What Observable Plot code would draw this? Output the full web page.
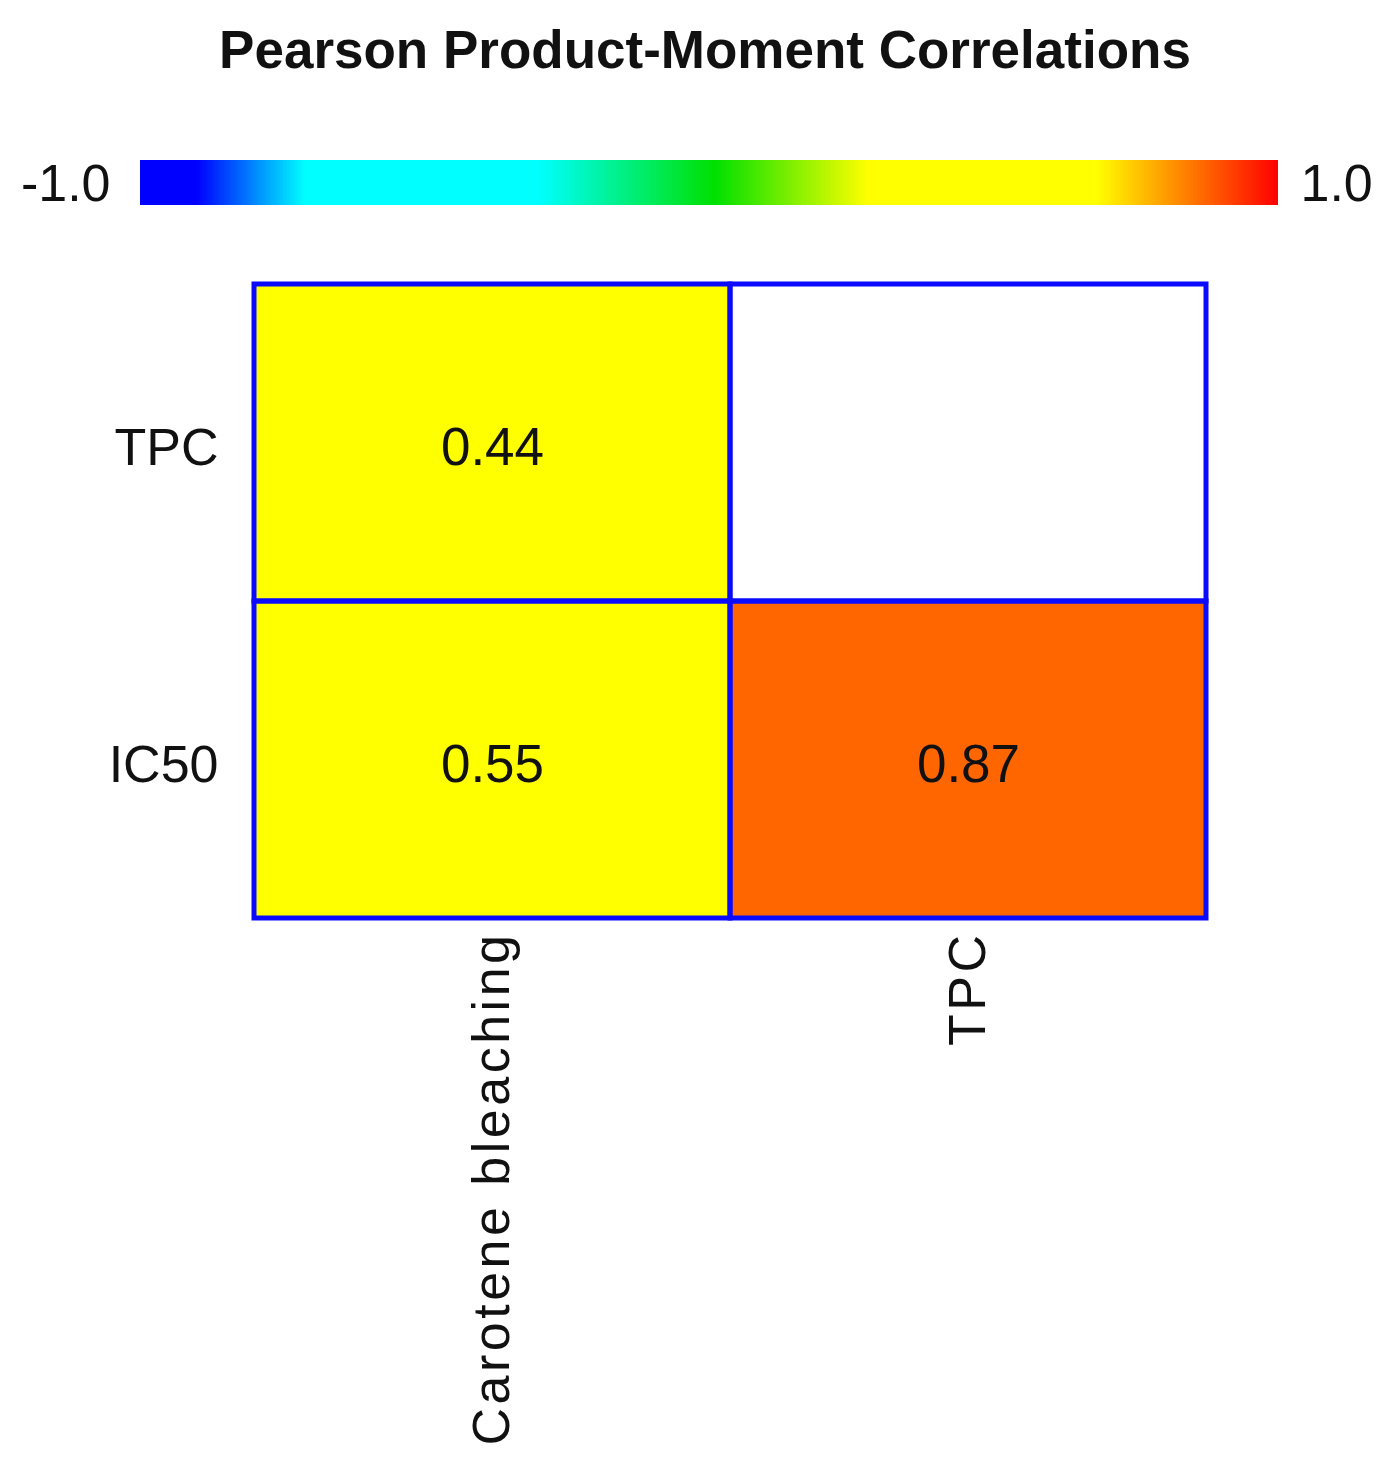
<!DOCTYPE html>
<html>
<head>
<meta charset="utf-8">
<script src="https://cdn.jsdelivr.net/npm/d3@7"></script>
<script src="https://cdn.jsdelivr.net/npm/@observablehq/plot@0.6"></script>
<style>
  body { margin: 0; background: #fff; font-family: "Liberation Sans", Arial, sans-serif; }
  #title { height: 100px; line-height: 100px; text-align: center; padding-left: 14px;
           font-size: 53px; font-weight: bold; color: #111; white-space: nowrap; }
  svg { display: block; }
  g[aria-label="x-axis tick label"] text { letter-spacing: 3.5px; }
</style>
</head>
<body>
<div id="title">Pearson Product-Moment Correlations</div>
<div id="bar"></div>
<div id="chart"></div>
<script>
// ---- data ----
const columns = ["Carotene bleaching", "TPC"];
const rows = ["TPC", "IC50"];
const cellCols = ["Carotene bleaching", "Carotene bleaching", "TPC"];
const cellRows = ["TPC", "IC50", "IC50"];
const cellValues = [0.44, 0.55, 0.87];
const legendLabels = ["-1.0", "1.0"];
const legendEnds = [-1, 1];

// colour scale stops (rainbow ramp as in reference)
const colorStops = [-1, -0.9, -0.71, -0.3, 0.01, 0.28, 0.68, 0.87, 1];
const colorRange = ["#0000ff", "#0000ff", "#00ffff", "#00ffff", "#00e000", "#ffff00", "#ffff00", "#ff6600", "#ff0000"];
const colorScale = {type: "linear", domain: colorStops, range: colorRange, interpolate: "rgb"};

const cells = cellValues.map((v, i) => ({col: cellCols[i], row: cellRows[i], value: v}));
const grid = [];
for (const r of rows) for (const c of columns) grid.push({col: c, row: r});

// ---- colour bar ----
const ramp = d3.range(-1, 1, 0.003).map(v => ({x1: v, x2: Math.min(1, v + 0.004), v: v + 0.0015}));
const bar = Plot.plot({
  width: 1396,
  height: 130,
  marginLeft: 140,
  marginRight: 118,
  marginTop: 0,
  marginBottom: 0,
  x: {domain: [-1, 1], axis: null},
  y: {domain: [0, 130], range: [0, 130], axis: null},
  color: colorScale,
  style: {fontFamily: "Liberation Sans, Arial, sans-serif", color: "#111", background: "#fff"},
  marks: [
    Plot.rectY(ramp, {x1: "x1", x2: "x2", y1: 60, y2: 105, fill: "v", shapeRendering: "crispEdges"}),
    Plot.text([legendEnds[0]], {x: d => d, y: 84, text: [legendLabels[0]], fontSize: 52,
      textAnchor: "end", dx: -30, fill: "#111"}),
    Plot.text([legendEnds[1]], {x: d => d, y: 84, text: [legendLabels[1]], fontSize: 52,
      textAnchor: "start", dx: 22, fill: "#111"})
  ]
});
document.getElementById("bar").appendChild(bar);

// ---- heatmap ----
const chart = Plot.plot({
  width: 1396,
  height: 1242,
  marginLeft: 254,
  marginRight: 190,
  marginTop: 54,
  marginBottom: 554,
  x: {domain: columns, padding: 0, label: null},
  y: {domain: rows, padding: 0, label: null},
  color: colorScale,
  style: {fontFamily: "Liberation Sans, Arial, sans-serif", color: "#111", background: "#fff"},
  marks: [
    Plot.cell(cells, {x: "col", y: "row", fill: "value"}),
    Plot.cell(grid, {x: "col", y: "row", fill: "none", stroke: "#0a0aff", strokeWidth: 5}),
    Plot.text(cells, {x: "col", y: "row", text: d => d.value.toFixed(2), fontSize: 53, dy: 5, fill: "#111"}),
    Plot.axisX({fontSize: 52, tickSize: 0, tickRotate: -90, tickPadding: 13, label: null}),
    Plot.axisY({fontSize: 52, tickSize: 0, tickPadding: 36, dy: 5, label: null})
  ]
});
document.getElementById("chart").appendChild(chart);
</script>
</body>
</html>
